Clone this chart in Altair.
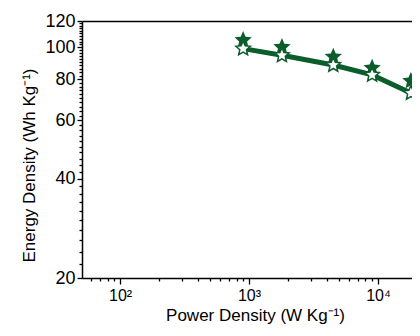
import altair as alt
import pandas as pd

# Data
power = [900, 1800, 4500, 9000, 18000]                 # W/kg
energy_filled = [105, 100, 93.5, 86.5, 79]             # filled stars
energy_hollow = [99, 94.5, 88.3, 82.4, 72.6]           # hollow stars (line)

x_minor = [60, 70, 80, 90, 200, 300, 400, 500, 600, 700, 800, 900,
           2000, 3000, 4000, 5000, 6000, 7000, 8000, 9000]
x_major = [100, 1000, 10000]
x_major_labels = ["10²", "10³", "10⁴"]
y_minor = [v for v in range(20, 121, 2) if v % 20 != 0]
y_major = [20, 40, 60, 80, 100, 120]

GREEN = "#0b5d2c"
FONT = "Liberation Sans"
STAR = ("M0,-1L0.27,-0.37L0.951,-0.309L0.44,0.143L0.588,0.809L0,0.46"
        "L-0.588,0.809L-0.44,0.143L-0.951,-0.309L-0.27,-0.37Z")

df = pd.DataFrame({"power": power, "efill": energy_filled, "ehollow": energy_hollow})

x_label_expr = " : ".join(
    f"datum.value == {v} ? '{l}'" for v, l in zip(x_major, x_major_labels)) + " : ''"

xscale = alt.Scale(type="log", domain=[50.7, 18350], nice=False)
yscale = alt.Scale(type="log", domain=[20, 120], nice=False)

common = dict(grid=False, labelColor="black", titleColor="black", domainColor="black",
              tickColor="black", domainWidth=1.5, tickWidth=1.3, labelFlush=False,
              labelOverlap=False, labelFont=FONT, titleFont=FONT, titleFontWeight="normal")

x_axis = alt.Axis(
    orient="bottom", title="Power Density (W Kg⁻¹)", values=x_major, labelExpr=x_label_expr,
    tickSize=6, labelFontSize=16, titleFontSize=17, labelPadding=3, titlePadding=4,
    titleX=173, **common)
y_axis = alt.Axis(
    orient="left", title="Energy Density (Wh Kg⁻¹)", values=y_major, tickSize=5,
    labelFontSize=18, titleFontSize=17, labelPadding=2,
    titleY=144, titleX=-53, titleBaseline="middle", titleAngle=270, titleAlign="center",
    **common)
x_axis_minor = alt.Axis(orient="bottom", title="", values=x_minor, labels=False, tickSize=3,
                        domain=False, grid=False, tickColor="black", tickWidth=1.3)
y_axis_minor = alt.Axis(orient="left", title="", values=y_minor, labels=False, tickSize=3,
                        domain=False, grid=False, tickColor="black", tickWidth=1.3)
x_axis_top = alt.Axis(orient="top", title="", labels=False, ticks=False, domain=True,
                      grid=False, domainColor="black", domainWidth=1.5)

base = alt.Chart(df)
top = base.mark_point(opacity=0).encode(
    x=alt.X("power:Q", scale=xscale, axis=x_axis_top),
    y=alt.Y("ehollow:Q", scale=yscale, axis=None),
)
minor = base.mark_point(opacity=0).encode(
    x=alt.X("power:Q", scale=xscale, axis=x_axis_minor),
    y=alt.Y("ehollow:Q", scale=yscale, axis=y_axis_minor),
)
line = base.mark_line(color=GREEN, strokeWidth=5).encode(
    x=alt.X("power:Q", scale=xscale, axis=x_axis),
    y=alt.Y("ehollow:Q", scale=yscale, axis=y_axis),
)
filled = base.mark_point(shape=STAR, filled=True, color=GREEN, size=330, opacity=1).encode(
    x=alt.X("power:Q", scale=xscale, axis=None),
    y=alt.Y("efill:Q", scale=yscale, axis=None),
)
hollow = base.mark_point(shape=STAR, filled=True, fill="white", stroke=GREEN,
                         strokeWidth=1.5, size=230, opacity=1).encode(
    x=alt.X("power:Q", scale=xscale, axis=None),
    y=alt.Y("ehollow:Q", scale=yscale, axis=None),
)

chart = alt.layer(top, minor, line, filled, hollow).resolve_axis(
    x="independent", y="independent"
).properties(
    width=330, height=257,
    padding={"left": 74, "top": 13, "right": 0, "bottom": 50},
    autosize="none",
    background="white",
).configure_view(strokeWidth=0)

chart.save("out.html", embed_options={"renderer": "svg", "actions": False})
